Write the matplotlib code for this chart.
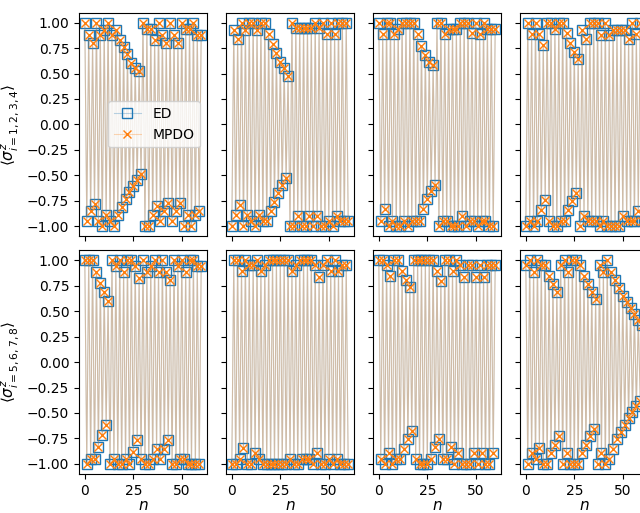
import matplotlib
matplotlib.use("Agg")
import matplotlib.pyplot as plt
from matplotlib.colors import to_rgba

# time steps
n = list(range(61))

# <sigma^z_i> vs n (ED), one list per site
site1 = [1.00, -0.95, 0.88, -0.85, 0.80, -0.78, 1.00, -0.95, 0.88, -1.00,
         0.93, -0.89, 1.00, -0.95, 0.88, -1.00, 0.93, -0.89, 0.83, -0.81,
         0.76, -0.73, 0.69, -0.66, 0.60, -0.61, 0.55, -0.55, 0.52, -0.49,
         1.00, -1.00, 0.94, -1.00, 0.94, -0.89, 0.83, -0.80, 1.00, -0.95,
         0.88, -0.85, 0.80, -0.77, 1.00, -0.95, 0.88, -0.85, 0.80, -0.77,
         1.00, -1.00, 0.94, -0.89, 0.94, -1.00, 1.00, -0.89, 0.88, -0.85,
         0.88]
site2 = [-1.00, 0.93, -0.89, 0.84, -0.79, 1.00, -1.00, 0.93, -0.89, 1.00,
         -0.95, 1.00, -1.00, 0.93, -0.89, 1.00, -0.95, 1.00, -0.95, 0.89,
         -0.85, 0.79, -0.76, 0.70, -0.67, 0.61, -0.60, 0.55, -0.53, 0.48,
         -1.00, 1.00, -1.00, 0.95, -0.90, 0.95, -1.00, 0.95, -1.00, 0.95,
         -0.90, 0.95, -1.00, 1.00, -0.90, 0.95, -1.00, 1.00, -1.00, 0.89,
         -0.95, 1.00, -1.00, 0.89, -0.90, 1.00, -0.95, 1.00, -0.95, 1.00,
         -0.95]
site3 = [1.00, -0.95, 0.89, -0.83, 1.00, -1.00, 1.00, -0.95, 0.89, -1.00,
         0.94, -1.00, 1.00, -0.95, 1.00, -1.00, 1.00, -0.95, 1.00, -0.95,
         0.89, -0.95, 0.77, -0.83, 0.68, -0.73, 0.61, -0.65, 0.58, -0.60,
         1.00, -1.00, 1.00, -0.95, 0.89, -0.95, 0.94, -1.00, 0.94, -1.00,
         0.94, -1.00, 1.00, -0.90, 1.00, -1.00, 1.00, -0.95, 0.90, -0.95,
         1.00, -1.00, 0.89, -0.95, 1.00, -0.95, 0.94, -1.00, 0.94, -1.00,
         0.94]
site4 = [-1.00, 1.00, -0.95, 0.89, -1.00, 1.00, -0.95, 0.89, -0.84, 0.78,
         -0.74, 1.00, -0.95, 1.00, -1.00, 0.94, -1.00, 1.00, -0.95, 1.00,
         -0.95, 0.90, -0.84, 0.80, -0.75, 0.71, -0.67, 0.64, -1.00, 0.93,
         -0.90, 0.84, -0.95, 1.00, -0.95, 1.00, -0.95, 1.00, -1.00, 0.88,
         -0.95, 1.00, -1.00, 0.88, -1.00, 0.93, -1.00, 0.93, -1.00, 0.93,
         -0.90, 0.93, -0.95, 0.84, -0.95, 1.00, -0.95, 0.89, -0.85, 1.00,
         -0.95]
site5 = [1.00, -1.00, 1.00, -0.95, 1.00, -0.95, 0.89, -0.83, 0.78, -0.72,
         0.69, -0.62, 0.60, -1.00, 1.00, -0.95, 0.94, -1.00, 1.00, -1.00,
         0.89, -0.95, 1.00, -1.00, 1.00, -0.88, 0.94, -0.77, 0.83, -0.95,
         1.00, -1.00, 0.89, -1.00, 0.94, -0.95, 1.00, -0.85, 0.89, -0.95,
         1.00, -0.85, 0.89, -0.77, 0.81, -1.00, 1.00, -1.00, 0.94, -0.95,
         1.00, -0.95, 0.89, -1.00, 1.00, -1.00, 1.00, -1.00, 0.94, -1.00,
         0.94]
site6 = [-1.00, 1.00, -1.00, 1.00, -0.95, 0.90, -0.84, 1.00, -1.00, 0.95,
         -1.00, 0.95, -0.89, 1.00, -0.95, 0.90, -1.00, 0.95, -1.00, 1.00,
         -1.00, 1.00, -1.00, 1.00, -1.00, 1.00, -1.00, 1.00, -1.00, 1.00,
         -0.95, 0.90, -1.00, 0.95, -1.00, 1.00, -0.95, 1.00, -0.95, 1.00,
         -0.95, 1.00, -1.00, 0.95, -0.89, 0.84, -1.00, 0.95, -1.00, 1.00,
         -0.95, 0.90, -1.00, 1.00, -0.95, 0.90, -1.00, 0.95, -1.00, 0.95,
         -1.00]
site7 = [1.00, -0.95, 1.00, -1.00, 0.95, -0.89, 0.85, -1.00, 1.00, -0.95,
         1.00, -0.95, 0.90, -0.85, 0.81, -0.76, 0.74, -0.68, 1.00, -0.95,
         1.00, -1.00, 1.00, -1.00, 1.00, -1.00, 1.00, -0.95, 1.00, -0.83,
         0.90, -0.76, 0.80, -0.95, 1.00, -0.95, 1.00, -0.83, 0.90, -1.00,
         1.00, -0.89, 0.95, -1.00, 0.84, -1.00, 0.95, -1.00, 0.95, -0.89,
         0.84, -1.00, 0.95, -0.89, 0.84, -1.00, 0.95, -1.00, 0.95, -0.89,
         0.95]
site8 = [0.95, -1.00, 1.00, -0.89, 0.89, -0.95, 1.00, -0.84, 0.95, -1.00,
         0.95, -1.00, 0.85, -0.89, 0.77, -0.81, 0.69, -0.73, 0.95, -1.00,
         1.00, -0.89, 0.89, -1.00, 1.00, -1.00, 1.00, -1.00, 0.95, -0.89,
         0.85, -0.81, 0.77, -0.73, 0.69, -0.66, 0.62, -1.00, 0.95, -0.89,
         0.89, -1.00, 1.00, -0.95, 0.89, -0.85, 0.81, -0.76, 0.73, -0.69,
         0.65, -0.62, 0.59, -0.55, 0.53, -0.49, 0.47, -0.43, 0.41, -0.38,
         0.36]

ed_sites = [site1, site2, site3, site4, site5, site6, site7, site8]
# MPDO lies on top of ED everywhere in the figure
mpdo_sites = ed_sites

row_labels = [r'$\langle\sigma^z_{i=1,2,3,4}\rangle$',
              r'$\langle\sigma^z_{i=5,6,7,8}\rangle$']
yticks = [-1.0, -0.75, -0.5, -0.25, 0.0, 0.25, 0.5, 0.75, 1.0]

fig = plt.figure(figsize=(6.4, 5.13), dpi=100)
# the right-most column runs past the edge of the figure, as in the original
gs = fig.add_gridspec(2, 4, left=79/640, right=648/640,
                      bottom=1 - 474/513, top=1 - 12.5/513,
                      wspace=19/128, hspace=14/225)
axes = gs.subplots(sharex=True, sharey=True)

blue = to_rgba('C0', 0.3)
orange = to_rgba('C1', 0.3)

for k, ax in enumerate(axes.flat):
    ax.plot(n, ed_sites[k], 's-', color=blue, lw=0.8, ms=6.5,
            mfc='none', mec='C0', mew=1.0, label='ED')
    ax.plot(n, mpdo_sites[k], 'x-', color=orange, lw=0.8, ms=6,
            mec='C1', mew=1.0, label='MPDO')

for r in range(2):
    axes[r, 0].set_ylabel(row_labels[r], fontsize=11)
for c in range(4):
    axes[1, c].set_xlabel(r'$n$', fontsize=11, labelpad=0)

axes[0, 0].set_xticks([0, 25, 50])
axes[0, 0].set_yticks(yticks)
axes[0, 0].legend(loc='center right')

plt.savefig('out.png', dpi=100)
